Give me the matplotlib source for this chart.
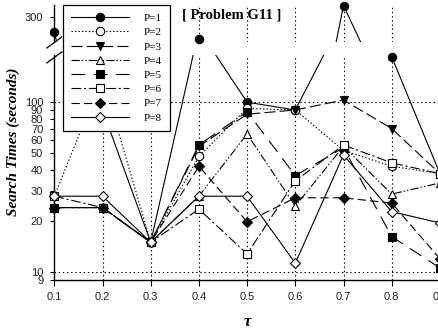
import matplotlib
matplotlib.use("Agg")
import matplotlib.pyplot as plt
from matplotlib.lines import Line2D

plt.rcParams['lines.scale_dashes'] = False

# ---- data -------------------------------------------------------------
tau = [0.1, 0.2, 0.3, 0.4, 0.5, 0.6, 0.7, 0.8, 0.9]
series_labels = ["P=1", "P=2", "P=3", "P=4", "P=5", "P=6", "P=7", "P=8"]

p1 = [277, 90, 15, 267, 100, 90, 318, 185, 38]
p2 = [28, 140, 15, 48, 92, 90, 52, 42, 38]
p3 = [24, 24, 15, 55, 85, 90, 103, 70, 38]
p4 = [24, 24, 15, 28, 65, 24.5, 55, 28.8, 33.5]
p5 = [24, 24, 15, 56, 88, 37, 54, 16.2, 10.6]
p6 = [28, 24, 15, 23.5, 12.8, 34.5, 56, 44, 38]
p7 = [24, 24, 15, 42, 19.8, 27.4, 27.4, 25.5, 12]
p8 = [28, 28, 15, 28, 28, 11.3, 49, 22.7, 19.5]
series = [p1, p2, p3, p4, p5, p6, p7, p8]

x_ticks = [0.1, 0.2, 0.3, 0.4, 0.5, 0.6, 0.7, 0.8, 0.9]
x_ticklabels = ["0.1", "0.2", "0.3", "0.4", "0.5", "0.6", "0.7", "0.8", "0.9"]
low_ticks = [9, 10, 20, 30, 40, 50, 60, 70, 80, 90, 100]
low_ticklabels = ["9", "10", "20", "30", "40", "50", "60", "70", "80", "90", "100"]
up_ticks = [300]
up_ticklabels = ["300"]

# ---- styles -----------------------------------------------------------
styles = [
    dict(ls='-', marker='o', mfc='black', ms=6),
    dict(ls=(0, (1, 1.5)), marker='o', mfc='white', ms=6),
    dict(ls=(0, (8, 3)), marker='v', mfc='black', ms=6),
    dict(ls=(0, (6, 1.5, 1, 1.5, 1, 1.5)), marker='^', mfc='white', ms=6),
    dict(ls=(0, (10, 6)), marker='s', mfc='black', ms=5.5),
    dict(ls=(0, (7, 2, 1.5, 2)), marker='s', mfc='white', ms=5.5),
    dict(ls=(0, (6, 3)), marker='D', mfc='black', ms=5),
    dict(ls='-', marker='D', mfc='white', ms=5),
]

W, H = 438, 330
fig = plt.figure(figsize=(W / 100, H / 100), dpi=100)

x_left = 54.3
px_per_unit = 482.0
xlim = (0.1, 0.95)
ax_w = (xlim[1] - xlim[0]) * px_per_unit

# lower (main) panel and upper (broken) panel
ax_lo = fig.add_axes([x_left / W, (H - 280) / H, ax_w / W, 225 / H])
ax_up = fig.add_axes([x_left / W, (H - 42) / H, ax_w / W, 42 / H])

lo_lim = (9, 189.5)
up_lim = (262.3, 327.5)
up_spine_top = 319.6

for ax, lim in ((ax_lo, lo_lim), (ax_up, up_lim)):
    ax.set_yscale('log')
    ax.set_xlim(*xlim)
    ax.set_ylim(*lim)
    ax.patch.set_alpha(0)
    for s in ('top', 'right'):
        ax.spines[s].set_visible(False)
    ax.spines['left'].set_linewidth(1.0)
    ax.minorticks_off()

ax_up.spines['bottom'].set_visible(False)
ax_up.spines['left'].set_bounds(up_lim[0], up_spine_top)
ax_lo.spines['bottom'].set_linewidth(1.0)

ax_lo.set_xticks(x_ticks)
ax_lo.set_xticklabels(x_ticklabels)
ax_up.set_xticks([])
ax_lo.set_yticks(low_ticks)
ax_lo.set_yticklabels(low_ticklabels)
ax_up.set_yticks(up_ticks)
ax_up.set_yticklabels(up_ticklabels)
ax_lo.minorticks_off()
ax_up.minorticks_off()

for ax in (ax_lo, ax_up):
    for lab in ax.get_yticklabels() + ax.get_xticklabels():
        lab.set_fontfamily('Liberation Sans')
        lab.set_fontsize(8)
        lab.set_color('#222222')
    ax.tick_params(axis='y', direction='out', length=3, width=0.8, pad=5)
ax_lo.tick_params(axis='x', direction='out', length=4, width=0.8, pad=5)

# dotted reference lines
dot = dict(color='black', lw=0.8, ls=(0, (1, 2)), zorder=1)
for xv in x_ticks[1:]:
    ax_lo.plot([xv, xv], lo_lim, **dot)
    ax_up.plot([xv, xv], [up_lim[0], up_spine_top], **dot)
for yv in (10, 100):
    ax_lo.plot(xlim, [yv, yv], **dot)

# series: clipped lines in both panels, markers only inside each panel's range
for i, (vals, st) in enumerate(zip(series, styles)):
    z = 3 + i
    for ax, lim in ((ax_lo, lo_lim), (ax_up, up_lim)):
        ax.plot(tau, vals, color='black', lw=0.8, ls=st['ls'], zorder=z)
        xs = [t for t, v in zip(tau, vals) if lim[0] <= v <= lim[1]]
        ys = [v for v in vals if lim[0] <= v <= lim[1]]
        ax.plot(xs, ys, ls='none', marker=st['marker'], ms=st['ms'],
                mfc=st['mfc'], mec='black', mew=0.8, zorder=z + 0.5,
                clip_on=False)

# break marks on the y axis
for yc in (42.5, 57.5):
    fig.add_artist(Line2D([(x_left - 7.5) / W, (x_left + 7.5) / W],
                          [(H - yc - 5.5) / H, (H - yc + 5.5) / H],
                          color='black', lw=0.9))

# legend
handles = [Line2D([0], [0], color='black', lw=0.8, ls=st['ls'],
                  marker=st['marker'], ms=st['ms'], mfc=st['mfc'],
                  mec='black', mew=0.8) for st in styles]
leg = fig.legend(handles, series_labels, loc='upper left',
                 bbox_to_anchor=(63 / W, 1 - 5 / H), borderaxespad=0,
                 frameon=True, fancybox=False, framealpha=1,
                 edgecolor='black', handlelength=5.2, handletextpad=1.3,
                 labelspacing=0.40, borderpad=0.75, numpoints=1,
                 prop=dict(family='Liberation Serif', size=8))
leg.get_frame().set_linewidth(0.9)
leg.set_zorder(20)

# texts
fig.text(232 / W, 1 - 15 / H, "[ Problem G11 ]", ha='center', va='center',
         family='Liberation Serif', weight='bold', size=10.5)
fig.text(13 / W, 1 - 142 / H, "Search Times (seconds)", rotation=90,
         ha='center', va='center', family='Liberation Serif',
         weight='bold', style='italic', size=11)
fig.text(247 / W, 1 - 322 / H, "\u03c4", ha='center', va='center',
         family='Liberation Serif', weight='bold', style='italic', size=12)

fig.savefig("out.png", dpi=100)
